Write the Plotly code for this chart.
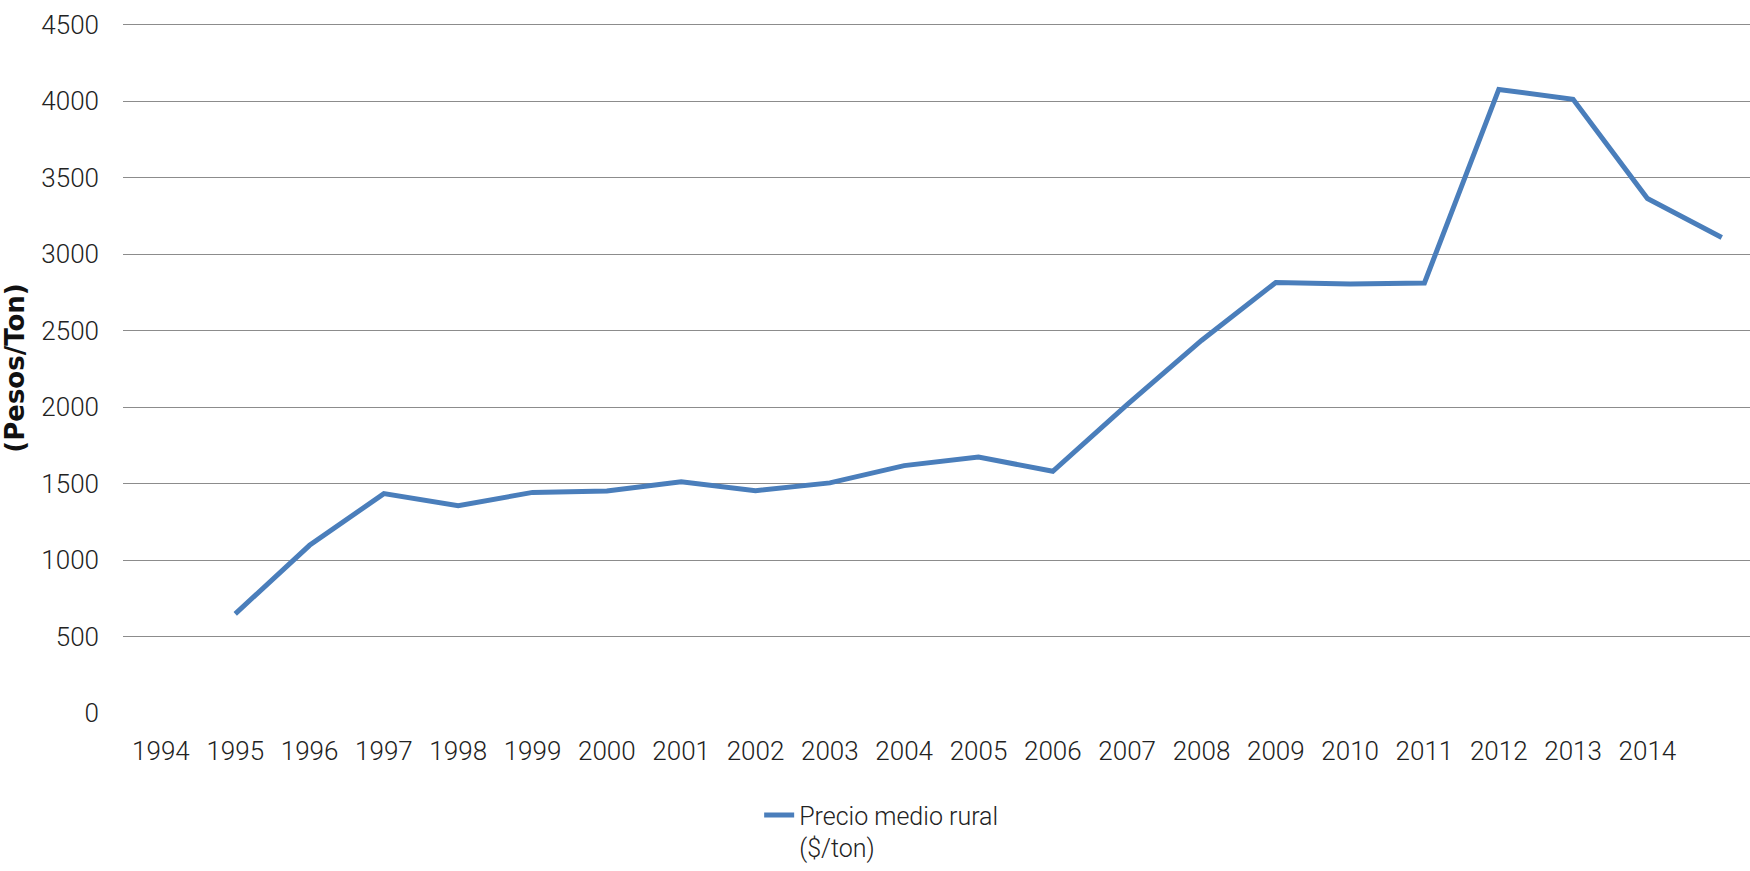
import plotly.graph_objects as go

years = [1994, 1995, 1996, 1997, 1998, 1999, 2000, 2001, 2002, 2003, 2004,
         2005, 2006, 2007, 2008, 2009, 2010, 2011, 2012, 2013, 2014, 2015]
precio = [None, 648, 1096, 1434, 1355, 1442, 1451, 1512, 1453, 1504, 1617,
          1673, 1580, 2015, 2435, 2814, 2804, 2811, 4076, 4011, 3363, 3108]
tick_years = list(range(1994, 2015))
tick_labels = [str(y) for y in tick_years]
y_ticks = [0, 500, 1000, 1500, 2000, 2500, 3000, 3500, 4000, 4500]

FONT = "Roboto"
TXT = "#222222"

fig = go.Figure()
fig.add_trace(go.Scatter(
    x=years, y=precio, mode="lines",
    name="Precio medio rural<br>($/ton)",
    line=dict(color="#4a7ebb", width=5),
    connectgaps=False,
))

fig.update_layout(
    width=1750, height=871,
    margin=dict(l=123, r=0, t=23, b=158, autoexpand=False),
    paper_bgcolor="white", plot_bgcolor="white",
    font=dict(family=FONT, size=26, color=TXT, weight=300),
    showlegend=True,
    legend=dict(
        orientation="h", x=0.391, xanchor="left", y=-0.115, yanchor="top",
        valign="top", font=dict(family=FONT, size=25, color=TXT, weight=300),
        bgcolor="rgba(0,0,0,0)",
    ),
    xaxis=dict(
        range=[1993.49, 2015.38],
        tickmode="array", tickvals=tick_years, ticktext=tick_labels,
        showgrid=False, zeroline=False, showline=False, ticks="",
        ticklabelstandoff=20,
        tickfont=dict(family=FONT, size=26, color=TXT, weight=300),
    ),
    yaxis=dict(
        range=[0, 4510], tickmode="array", tickvals=y_ticks,
        showgrid=True, gridcolor="#8c8c8c", gridwidth=1.4,
        zeroline=False, showline=False, ticks="",
        ticklabelstandoff=23,
        tickfont=dict(family=FONT, size=26, color=TXT, weight=300),
        title=dict(text="<b>(Pesos/Ton)</b>", standoff=10,
                   font=dict(family="DejaVu Sans", size=26, color="#111111")),
    ),
)

fig.write_html("out.html",
               config={"displayModeBar": False},
               post_script="document.body.style.margin='0';document.body.style.overflow='hidden';")
